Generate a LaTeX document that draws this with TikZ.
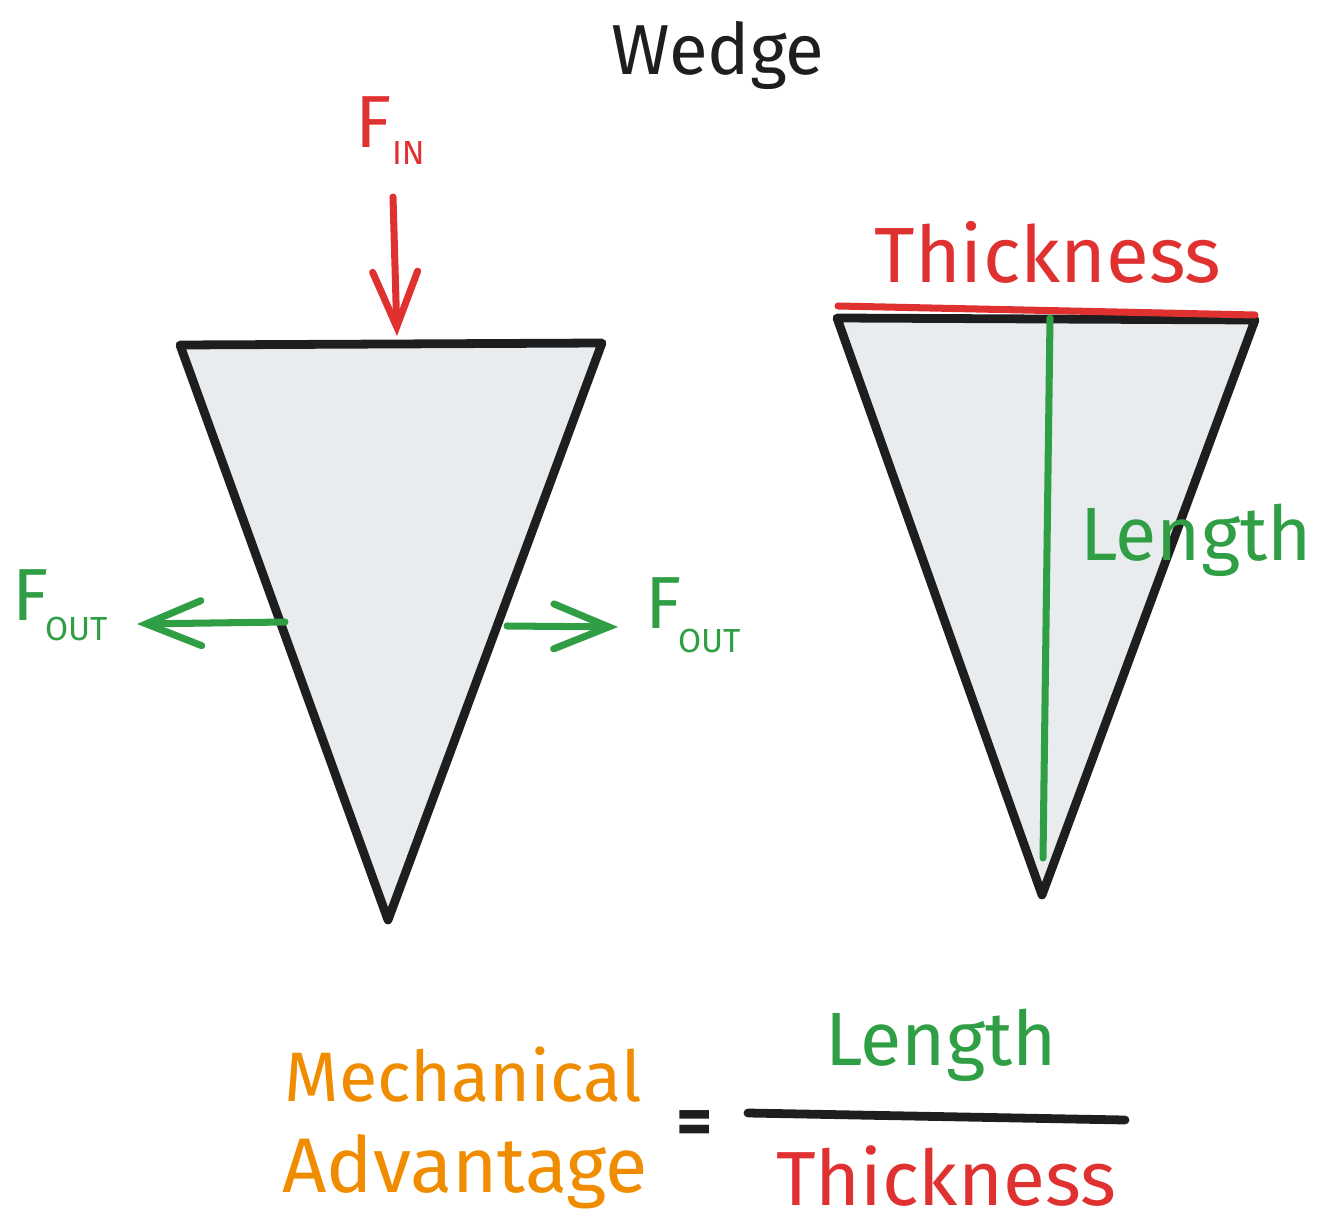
\documentclass[tikz,border=0pt]{standalone}
\usepackage{fontspec}
\setmainfont{Fira Sans}
\usetikzlibrary{arrows.meta}
\definecolor{xred}{HTML}{E03131}
\definecolor{xgreen}{HTML}{2F9E44}
\definecolor{xorange}{HTML}{F08C00}
\definecolor{xblack}{HTML}{1E1E1E}
\definecolor{xfill}{HTML}{E9ECEF}
\begin{document}
\begin{tikzpicture}[x=0.02cm,y=-0.02cm,
  lbl/.style={inner sep=0pt,outer sep=0pt},
  bigF/.style={lbl,anchor=base west,font=\fontsize{42}{42}\selectfont},
  subF/.style={lbl,anchor=base west,font=\fontsize{19}{19}\selectfont},
  wedgebody/.style={draw=xblack,fill=xfill,line width=5pt,line join=round},
  force/.style={line width=4pt,line cap=round,-{Straight Barb[length=1.1cm,width=0.9cm,line cap=round]}},
  measure/.style={line width=4pt,line cap=round}]
\useasboundingbox (0,0) rectangle (1325,1216);

% title
\node[lbl,text=xblack] (title) at (718,55) {\resizebox{4.26cm}{!}{Wedge}};

% left wedge
\coordinate (lTL) at (180,345);
\coordinate (lTR) at (602,343);
\coordinate (lB) at (388,920);
\draw[wedgebody] (lTL) -- (lTR) -- (lB) -- cycle;

% F in
\node[bigF,text=xred] (fin) at (355,148) {F};
\node[subF,text=xred] (finsub) at (392,165) {IN};
\coordinate (finTail) at (393,197);
\coordinate (finTip) at (397,336);
\draw[force,draw=xred] (finTail) -- (finTip);

% F out left
\node[bigF,text=xgreen] (foutL) at (12,620) {F};
\node[subF,text=xgreen] (foutLsub) at (45,640) {OUT};
\coordinate (oLtail) at (285,622);
\coordinate (oLtip) at (137,624);
\draw[force,draw=xgreen] (oLtail) -- (oLtip);

% F out right
\node[bigF,text=xgreen] (foutR) at (645,628) {F};
\node[subF,text=xgreen] (foutRsub) at (678,652) {OUT};
\coordinate (oRtail) at (507,626);
\coordinate (oRtip) at (618,627);
\draw[force,draw=xgreen] (oRtail) -- (oRtip);

% right wedge
\coordinate (rTL) at (837,318);
\coordinate (rTR) at (1255,320);
\coordinate (rB) at (1042,895);
\draw[wedgebody] (rTL) -- (rTR) -- (rB) -- cycle;
\coordinate (thA) at (838,306);
\coordinate (thB) at (1255,315);
\draw[measure,draw=xred] (thA) -- (thB);
\coordinate (lenA) at (1050,318);
\coordinate (lenB) at (1043,858);
\draw[measure,draw=xgreen] (lenA) -- (lenB);
\node[lbl,text=xred] (thick) at (1048,252) {\resizebox{6.94cm}{!}{Thickness}};
\node[lbl,text=xgreen] (len) at (1196,540) {\resizebox{4.64cm}{!}{Length}};

% formula
\node[lbl,text=xorange] (mech) at (463,1075) {\resizebox{7.14cm}{!}{Mechanical}};
\node[lbl,text=xorange] (adv) at (465,1172) {\resizebox{7.3cm}{!}{Advantage}};
\node[lbl,text=xblack,font=\fontsize{40}{40}\selectfont\bfseries] (eq) at (695,1128) {=};
\coordinate (fracA) at (748,1113);
\coordinate (fracB) at (1125,1120);
\draw[draw=xblack,line width=5pt,line cap=round] (fracA) -- (fracB);
\node[lbl,text=xgreen] (lenF) at (941,1045) {\resizebox{4.64cm}{!}{Length}};
\node[lbl,text=xred] (thickF) at (946,1176) {\resizebox{6.8cm}{!}{Thickness}};
\end{tikzpicture}
\end{document}
